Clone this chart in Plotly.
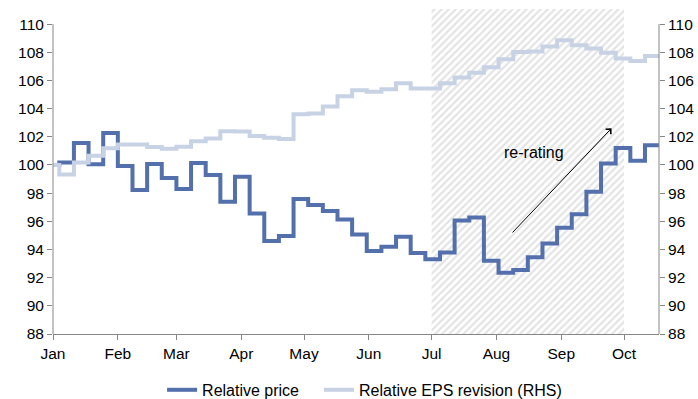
import pandas as pd
import plotly.graph_objects as go

# Weekly observation dates: index base on 1 Jan, then weekly fixes from 4 Jan
obs_dates = ["2011-01-01"] + list(
    pd.date_range("2011-01-04", "2011-10-11", freq="7D").strftime("%Y-%m-%d")
)
series_end = "2011-10-18"

relative_price = [
    100.0, 100.17, 101.55, 100.05, 102.26,
    99.92, 98.22, 100.06, 99.07,
    98.29, 100.13, 99.28, 97.39, 99.16,
    96.56, 94.60, 94.95, 97.58,
    97.15, 96.73, 96.12, 95.07, 93.90,
    94.20, 94.90, 93.75, 93.30,
    93.78, 96.05, 96.27, 93.20,
    92.35, 92.55, 93.45, 94.43, 95.55,
    96.50, 98.10, 100.10, 101.20,
    100.30, 101.40,
]

relative_eps = [
    100.0, 99.33, 100.17, 100.65, 101.18,
    101.46, 101.45, 101.27, 101.15,
    101.30, 101.68, 101.87, 102.40, 102.38,
    102.06, 101.93, 101.85, 103.60,
    103.65, 104.15, 104.87, 105.30, 105.20,
    105.37, 105.80, 105.42, 105.42,
    105.80, 106.20, 106.55, 106.93,
    107.50, 108.02, 108.05, 108.40, 108.86,
    108.50, 108.27, 107.96, 107.56,
    107.37, 107.73,
]

y_ticks = list(range(88, 111, 2))
shade_start, shade_end = "2011-07-01", "2011-10-01"
arrow_from = ("2011-08-08", 95.1)
arrow_to = ("2011-09-25", 102.6)
label_pos = ("2011-08-19", 100.9)

Y_MIN, Y_AXIS_TOP, Y_VIEW_TOP = 88, 110, 111.07
AXIS_GREY = "#868686"
FONT = "Liberation Sans, Arial, sans-serif"
TICK_FONT = dict(family=FONT, size=15.5, color="black")

x_line = obs_dates + [series_end]

fig = go.Figure()

# hatched band for the highlighted period
fig.add_trace(go.Scatter(
    x=[shade_start, shade_end, shade_end, shade_start, shade_start],
    y=[Y_MIN, Y_MIN, Y_VIEW_TOP, Y_VIEW_TOP, Y_MIN],
    mode="lines", fill="toself", line=dict(width=0),
    fillcolor="rgba(0,0,0,0)",
    fillpattern=dict(shape="/", fgcolor="#c8c8c8", bgcolor="white",
                     size=5, solidity=0.45),
    showlegend=False, hoverinfo="skip",
))

fig.add_trace(go.Scatter(
    x=x_line, y=relative_price + [relative_price[-1]],
    name="Relative price", mode="lines", line_shape="hv",
    line=dict(color="#5370ad", width=4), legend="legend",
))

fig.add_trace(go.Scatter(
    x=x_line, y=relative_eps + [relative_eps[-1]],
    name="Relative EPS revision (RHS)", mode="lines", line_shape="hv",
    line=dict(color="#c8d2e5", width=4), yaxis="y2", legend="legend2",
))

fig.add_annotation(
    x=arrow_to[0], y=arrow_to[1], ax=arrow_from[0], ay=arrow_from[1],
    xref="x", yref="y", axref="x", ayref="y", text="",
    showarrow=True, arrowhead=4, arrowsize=1.4, arrowwidth=1,
    arrowcolor="black", standoff=0, startstandoff=0,
)
fig.add_annotation(
    x=label_pos[0], y=label_pos[1], xref="x", yref="y", text="re-rating",
    showarrow=False, font=dict(family=FONT, size=16, color="black"),
)

# vertical axis lines stop at the top tick
for xp in (0, 1):
    fig.add_shape(type="line", xref="paper", yref="y", x0=xp, x1=xp,
                  y0=Y_MIN, y1=Y_AXIS_TOP, line=dict(color=AXIS_GREY, width=1))

yaxis_common = dict(
    range=[Y_MIN, Y_VIEW_TOP], tickvals=y_ticks, showgrid=False,
    zeroline=False, showline=False, ticks="outside", ticklen=5,
    tickcolor=AXIS_GREY, tickfont=TICK_FONT, automargin=False,
)

legend_common = dict(orientation="h", xanchor="left", y=-0.172,
                     yanchor="middle", font=dict(family=FONT, size=16),
                     bgcolor="rgba(0,0,0,0)")

fig.update_layout(
    width=698, height=399,
    margin=dict(l=53, r=39, t=9, b=65, autoexpand=False),
    paper_bgcolor="white", plot_bgcolor="white",
    font=dict(family=FONT, size=16, color="black"),
    xaxis=dict(
        type="date", range=["2011-01-01", "2011-10-17 17:00"],
        dtick="M1", tick0="2011-01-01", tickformat="%b",
        showgrid=False, zeroline=False, showline=True, linecolor=AXIS_GREY,
        ticks="outside", ticklen=5, tickcolor=AXIS_GREY,
        tickfont=TICK_FONT, automargin=False,
    ),
    yaxis=dict(**yaxis_common),
    yaxis2=dict(**yaxis_common, overlaying="y", side="right"),
    legend=dict(**legend_common, x=0.18),
    legend2=dict(**legend_common, x=0.439),
    showlegend=True,
)

fig.write_html("out.html")
